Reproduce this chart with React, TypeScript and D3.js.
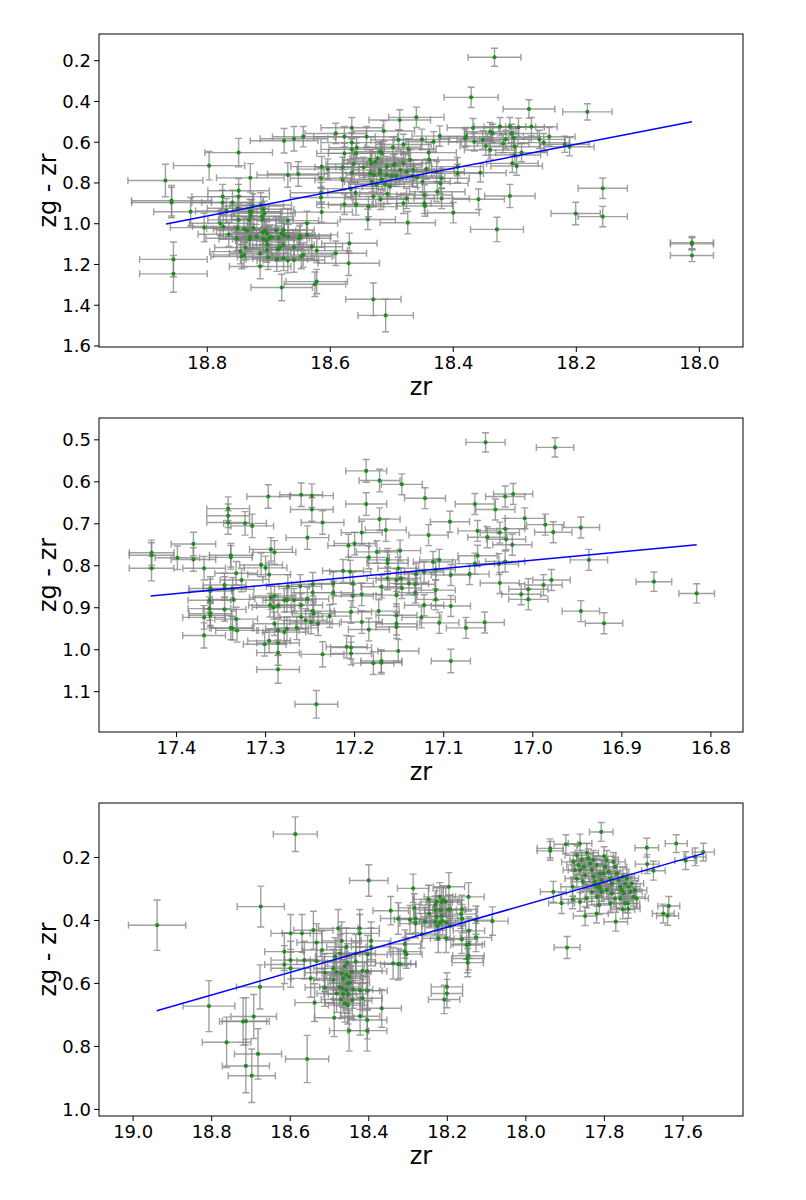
import { useEffect } from 'react';
import * as d3 from 'd3';

type Pt = [number, number, number, number]; // zr, zg - zr, zr error, colour error

// top panel
const p1Points: Pt[] = [
  [18.868, 0.788, 0.061, 0.08], [18.858, 0.887, 0.065, 0.075], [18.858, 0.896, 0.065, 0.075],
  [18.855, 1.175, 0.055, 0.085], [18.855, 1.246, 0.055, 0.09], [18.827, 0.941, 0.06, 0.07],
  [18.805, 1.019, 0.055, 0.07], [18.797, 0.715, 0.058, 0.07], [18.749, 0.651, 0.055, 0.07],
  [18.73, 0.775, 0.055, 0.07], [18.775, 0.867, 0.05, 0.06], [18.775, 0.896, 0.05, 0.06],
  [18.779, 0.998, 0.05, 0.06], [18.774, 1.014, 0.05, 0.06], [18.769, 0.937, 0.05, 0.06],
  [18.759, 0.896, 0.05, 0.06], [18.749, 0.838, 0.05, 0.06], [18.749, 0.867, 0.05, 0.06],
  [18.75, 0.924, 0.05, 0.06], [18.765, 1.052, 0.05, 0.06], [18.752, 1.071, 0.05, 0.06],
  [18.731, 0.941, 0.05, 0.06], [18.728, 0.941, 0.05, 0.06], [18.73, 0.962, 0.05, 0.06],
  [18.732, 0.981, 0.05, 0.06], [18.713, 0.908, 0.05, 0.06], [18.709, 0.929, 0.05, 0.06],
  [18.711, 0.965, 0.05, 0.06], [18.71, 0.978, 0.05, 0.06], [18.74, 1.027, 0.05, 0.06],
  [18.735, 1.034, 0.05, 0.06], [18.725, 1.021, 0.05, 0.06], [18.73, 1.063, 0.05, 0.06],
  [18.731, 1.076, 0.05, 0.06], [18.738, 1.117, 0.05, 0.06], [18.746, 1.137, 0.05, 0.06],
  [18.744, 1.161, 0.05, 0.06], [18.74, 1.153, 0.05, 0.06], [18.714, 1.21, 0.05, 0.06],
  [18.72, 1.063, 0.05, 0.06], [18.71, 1.044, 0.05, 0.06], [18.706, 1.034, 0.05, 0.06],
  [18.703, 1.047, 0.05, 0.06], [18.709, 1.076, 0.05, 0.06], [18.704, 1.083, 0.05, 0.06],
  [18.701, 1.076, 0.05, 0.06], [18.698, 1.067, 0.05, 0.06], [18.695, 1.067, 0.05, 0.06],
  [18.702, 1.104, 0.05, 0.06], [18.703, 1.129, 0.05, 0.06], [18.701, 1.165, 0.05, 0.06],
  [18.714, 1.145, 0.05, 0.06], [18.688, 1.031, 0.05, 0.06], [18.684, 1.071, 0.05, 0.06],
  [18.682, 1.116, 0.05, 0.06], [18.685, 1.125, 0.05, 0.06], [18.679, 1.047, 0.05, 0.06],
  [18.676, 1.031, 0.05, 0.06], [18.675, 1.058, 0.05, 0.06], [18.669, 0.985, 0.05, 0.06],
  [18.668, 1.063, 0.05, 0.06], [18.676, 1.104, 0.05, 0.06], [18.687, 1.174, 0.05, 0.06],
  [18.676, 1.17, 0.05, 0.06], [18.669, 1.181, 0.05, 0.06], [18.659, 1.116, 0.05, 0.06],
  [18.659, 1.178, 0.05, 0.06], [18.649, 1.06, 0.05, 0.06], [18.65, 1.071, 0.05, 0.06],
  [18.647, 1.161, 0.05, 0.06], [18.644, 1.153, 0.05, 0.06], [18.707, 0.949, 0.05, 0.06],
  [18.726, 0.913, 0.05, 0.06], [18.751, 1.022, 0.05, 0.06], [18.749, 0.981, 0.05, 0.06],
  [18.679, 1.313, 0.05, 0.065], [18.625, 1.297, 0.05, 0.06], [18.622, 1.284, 0.05, 0.06],
  [18.622, 1.132, 0.05, 0.06], [18.591, 1.145, 0.05, 0.06], [18.57, 1.194, 0.05, 0.06],
  [18.675, 0.593, 0.055, 0.06], [18.659, 0.583, 0.055, 0.06], [18.669, 0.761, 0.05, 0.06],
  [18.652, 0.756, 0.05, 0.06],
  [18.644, 0.573, 0.05, 0.05], [18.591, 0.557, 0.05, 0.05], [18.577, 0.573, 0.05, 0.05],
  [18.565, 0.529, 0.05, 0.05], [18.565, 0.602, 0.05, 0.05], [18.565, 0.635, 0.05, 0.05],
  [18.541, 0.573, 0.05, 0.05], [18.513, 0.545, 0.05, 0.05], [18.487, 0.491, 0.05, 0.05],
  [18.46, 0.478, 0.045, 0.05], [18.451, 0.586, 0.045, 0.05], [18.432, 0.598, 0.045, 0.05],
  [18.422, 0.57, 0.045, 0.05], [18.489, 0.589, 0.045, 0.05], [18.481, 0.611, 0.045, 0.05],
  [18.473, 0.633, 0.045, 0.05], [18.498, 0.625, 0.045, 0.05], [18.516, 0.655, 0.045, 0.05],
  [18.519, 0.647, 0.045, 0.05], [18.523, 0.679, 0.045, 0.05], [18.535, 0.687, 0.045, 0.05],
  [18.546, 0.723, 0.045, 0.05], [18.557, 0.627, 0.045, 0.05], [18.558, 0.655, 0.045, 0.05],
  [18.562, 0.707, 0.045, 0.05], [18.577, 0.655, 0.045, 0.05], [18.58, 0.723, 0.045, 0.05],
  [18.565, 0.75, 0.045, 0.05], [18.58, 0.786, 0.045, 0.05], [18.567, 0.828, 0.045, 0.05],
  [18.559, 0.848, 0.045, 0.05], [18.577, 0.905, 0.045, 0.05], [18.558, 0.908, 0.045, 0.05],
  [18.538, 0.916, 0.045, 0.05], [18.539, 0.979, 0.045, 0.05], [18.569, 1.096, 0.045, 0.05],
  [18.614, 0.72, 0.05, 0.05], [18.615, 0.777, 0.05, 0.05], [18.615, 0.848, 0.05, 0.05],
  [18.615, 0.871, 0.05, 0.05], [18.614, 0.943, 0.05, 0.05], [18.604, 0.732, 0.05, 0.05],
  [18.638, 0.998, 0.05, 0.06], [18.638, 1.055, 0.05, 0.06], [18.63, 1.113, 0.05, 0.06],
  [18.533, 0.704, 0.045, 0.05], [18.529, 0.761, 0.045, 0.05], [18.519, 0.753, 0.045, 0.05],
  [18.516, 0.782, 0.045, 0.05], [18.508, 0.72, 0.045, 0.05], [18.495, 0.707, 0.045, 0.05],
  [18.486, 0.737, 0.045, 0.05], [18.481, 0.704, 0.045, 0.05], [18.47, 0.687, 0.045, 0.05],
  [18.465, 0.737, 0.045, 0.05], [18.459, 0.773, 0.045, 0.05], [18.45, 0.794, 0.045, 0.05],
  [18.44, 0.651, 0.045, 0.05], [18.439, 0.687, 0.045, 0.05], [18.444, 0.732, 0.045, 0.05],
  [18.427, 0.745, 0.045, 0.05], [18.419, 0.777, 0.045, 0.05], [18.421, 0.802, 0.045, 0.05],
  [18.426, 0.843, 0.045, 0.05], [18.419, 0.876, 0.045, 0.05], [18.447, 0.859, 0.045, 0.05],
  [18.447, 0.9, 0.045, 0.05], [18.446, 0.913, 0.045, 0.05], [18.476, 0.876, 0.045, 0.05],
  [18.481, 0.9, 0.045, 0.05], [18.507, 0.854, 0.045, 0.05], [18.518, 0.88, 0.045, 0.05],
  [18.53, 0.867, 0.045, 0.05], [18.525, 0.807, 0.045, 0.05], [18.511, 0.805, 0.045, 0.05],
  [18.5, 0.766, 0.045, 0.05], [18.493, 0.766, 0.045, 0.05], [18.474, 0.995, 0.045, 0.055],
  [18.535, 0.753, 0.045, 0.05], [18.532, 0.794, 0.045, 0.05], [18.503, 0.818, 0.045, 0.05],
  [18.527, 0.696, 0.045, 0.05], [18.497, 0.712, 0.045, 0.05], [18.476, 0.745, 0.045, 0.05],
  [18.467, 0.766, 0.045, 0.05], [18.508, 0.761, 0.045, 0.05], [18.519, 0.737, 0.045, 0.05],
  [18.4, 0.946, 0.042, 0.05], [18.393, 0.72, 0.042, 0.045], [18.393, 0.753, 0.042, 0.045],
  [18.356, 0.75, 0.042, 0.045], [18.359, 0.88, 0.042, 0.05], [18.329, 1.028, 0.043, 0.06],
  [18.308, 0.864, 0.041, 0.057], [18.304, 0.704, 0.042, 0.045], [18.297, 0.717, 0.042, 0.045],
  [18.3, 0.663, 0.042, 0.045], [18.289, 0.651, 0.042, 0.045], [18.3, 0.622, 0.042, 0.045],
  [18.379, 0.573, 0.042, 0.045], [18.366, 0.598, 0.042, 0.045], [18.352, 0.589, 0.042, 0.045],
  [18.347, 0.619, 0.042, 0.045], [18.34, 0.638, 0.042, 0.045], [18.34, 0.548, 0.042, 0.045],
  [18.336, 0.557, 0.042, 0.045], [18.324, 0.524, 0.042, 0.045], [18.319, 0.606, 0.042, 0.045],
  [18.315, 0.586, 0.042, 0.045], [18.308, 0.524, 0.042, 0.045], [18.305, 0.557, 0.042, 0.045],
  [18.294, 0.527, 0.042, 0.045], [18.273, 0.524, 0.042, 0.045], [18.26, 0.586, 0.042, 0.045],
  [18.253, 0.602, 0.042, 0.045], [18.244, 0.573, 0.042, 0.045], [18.368, 0.529, 0.042, 0.045],
  [18.381, 0.581, 0.042, 0.045], [18.302, 0.578, 0.042, 0.045], [18.371, 0.38, 0.044, 0.05],
  [18.277, 0.437, 0.042, 0.045], [18.333, 0.183, 0.043, 0.044], [18.182, 0.451, 0.04, 0.04],
  [18.157, 0.826, 0.04, 0.05], [18.201, 0.95, 0.04, 0.055], [18.157, 0.965, 0.04, 0.05],
  [18.211, 0.622, 0.04, 0.045], [18.219, 0.61, 0.04, 0.04], [18.012, 1.093, 0.035, 0.03],
  [18.012, 1.099, 0.035, 0.03], [18.012, 1.156, 0.035, 0.03], [18.53, 1.371, 0.045, 0.08],
  [18.51, 1.45, 0.045, 0.08],
];

// middle panel
const p2Points: Pt[] = [
  [17.428, 0.769, 0.025, 0.03], [17.428, 0.775, 0.025, 0.03], [17.428, 0.806, 0.025, 0.03],
  [17.399, 0.781, 0.025, 0.028], [17.381, 0.748, 0.025, 0.028], [17.381, 0.785, 0.025, 0.028],
  [17.369, 0.806, 0.024, 0.028], [17.369, 0.923, 0.024, 0.028], [17.369, 0.966, 0.024, 0.03],
  [17.362, 0.854, 0.024, 0.028], [17.362, 0.86, 0.024, 0.028], [17.363, 0.882, 0.024, 0.028],
  [17.363, 0.902, 0.024, 0.028], [17.362, 0.914, 0.024, 0.028], [17.362, 0.918, 0.024, 0.028],
  [17.346, 0.904, 0.024, 0.028], [17.346, 0.846, 0.024, 0.028], [17.346, 0.854, 0.024, 0.028],
  [17.342, 0.664, 0.024, 0.028], [17.342, 0.681, 0.024, 0.028], [17.342, 0.697, 0.024, 0.028],
  [17.339, 0.775, 0.024, 0.028], [17.339, 0.78, 0.024, 0.028], [17.337, 0.856, 0.024, 0.028],
  [17.336, 0.88, 0.024, 0.028], [17.339, 0.948, 0.024, 0.028], [17.337, 0.949, 0.024, 0.028],
  [17.332, 0.954, 0.024, 0.028], [17.333, 0.927, 0.024, 0.028], [17.333, 0.818, 0.024, 0.028],
  [17.327, 0.834, 0.024, 0.028], [17.323, 0.699, 0.024, 0.028], [17.315, 0.705, 0.024, 0.028],
  [17.305, 0.798, 0.024, 0.028], [17.3, 0.805, 0.024, 0.028], [17.297, 0.635, 0.024, 0.028],
  [17.294, 0.761, 0.024, 0.028], [17.29, 0.768, 0.024, 0.028], [17.296, 0.821, 0.024, 0.028],
  [17.294, 0.876, 0.024, 0.028], [17.29, 0.872, 0.024, 0.028], [17.291, 0.899, 0.024, 0.028],
  [17.295, 0.894, 0.024, 0.028], [17.286, 0.895, 0.024, 0.028], [17.279, 0.882, 0.024, 0.028],
  [17.276, 0.882, 0.024, 0.028], [17.29, 0.938, 0.024, 0.028], [17.286, 0.954, 0.024, 0.028],
  [17.276, 0.95, 0.024, 0.028], [17.279, 0.958, 0.024, 0.028], [17.296, 0.979, 0.024, 0.028],
  [17.301, 0.987, 0.024, 0.028], [17.286, 0.984, 0.024, 0.028], [17.286, 1.007, 0.024, 0.03],
  [17.286, 1.047, 0.024, 0.033], [17.275, 0.849, 0.024, 0.028], [17.265, 0.948, 0.024, 0.028],
  [17.268, 0.882, 0.024, 0.028], [17.26, 0.631, 0.024, 0.028], [17.248, 0.633, 0.024, 0.028],
  [17.248, 0.666, 0.024, 0.028], [17.236, 0.697, 0.024, 0.028], [17.253, 0.733, 0.024, 0.028],
  [17.261, 0.849, 0.024, 0.028], [17.26, 0.894, 0.024, 0.028], [17.26, 0.922, 0.024, 0.028],
  [17.255, 0.93, 0.024, 0.028], [17.249, 0.934, 0.024, 0.028], [17.247, 0.908, 0.024, 0.028],
  [17.246, 0.914, 0.024, 0.028], [17.247, 0.864, 0.024, 0.028], [17.247, 0.844, 0.024, 0.028],
  [17.253, 0.879, 0.024, 0.028], [17.241, 0.938, 0.024, 0.028], [17.236, 1.011, 0.024, 0.03],
  [17.243, 1.13, 0.024, 0.033], [17.228, 0.92, 0.023, 0.027], [17.224, 0.842, 0.023, 0.027],
  [17.224, 0.864, 0.023, 0.027], [17.213, 0.812, 0.023, 0.027], [17.207, 0.752, 0.023, 0.027],
  [17.205, 0.814, 0.023, 0.027], [17.2, 0.747, 0.023, 0.027], [17.202, 0.842, 0.023, 0.027],
  [17.202, 0.872, 0.023, 0.027], [17.204, 0.91, 0.023, 0.027], [17.209, 0.993, 0.023, 0.027],
  [17.204, 0.995, 0.023, 0.027], [17.204, 1.009, 0.023, 0.027], [17.187, 0.574, 0.023, 0.027],
  [17.187, 0.653, 0.023, 0.027], [17.192, 0.721, 0.023, 0.027], [17.184, 0.78, 0.023, 0.027],
  [17.192, 0.868, 0.023, 0.027], [17.192, 0.934, 0.023, 0.027], [17.184, 0.952, 0.023, 0.027],
  [17.179, 1.032, 0.023, 0.027], [17.172, 0.597, 0.023, 0.027], [17.172, 0.689, 0.023, 0.027],
  [17.165, 0.715, 0.023, 0.027], [17.175, 0.767, 0.023, 0.027], [17.17, 0.85, 0.023, 0.027],
  [17.173, 0.908, 0.023, 0.027], [17.17, 1.027, 0.023, 0.027], [17.17, 1.031, 0.023, 0.027],
  [17.163, 0.786, 0.023, 0.027], [17.163, 0.794, 0.023, 0.027], [17.163, 0.83, 0.023, 0.027],
  [17.153, 0.834, 0.023, 0.027], [17.153, 0.87, 0.023, 0.027], [17.153, 0.918, 0.023, 0.027],
  [17.153, 0.938, 0.023, 0.027], [17.153, 0.946, 0.023, 0.027], [17.151, 1.003, 0.023, 0.027],
  [17.151, 0.806, 0.023, 0.027], [17.053, 0.506, 0.022, 0.023], [16.975, 0.518, 0.021, 0.023],
  [17.147, 0.606, 0.023, 0.025], [17.121, 0.639, 0.023, 0.025], [17.065, 0.653, 0.022, 0.025],
  [17.031, 0.635, 0.022, 0.025], [17.022, 0.629, 0.022, 0.025], [17.042, 0.666, 0.022, 0.025],
  [17.009, 0.687, 0.022, 0.025], [17.093, 0.695, 0.022, 0.025], [16.986, 0.702, 0.021, 0.025],
  [16.977, 0.72, 0.021, 0.025], [16.946, 0.709, 0.021, 0.025], [17.117, 0.727, 0.022, 0.025],
  [17.062, 0.717, 0.022, 0.025], [17.051, 0.732, 0.022, 0.025], [17.037, 0.721, 0.022, 0.025],
  [17.031, 0.712, 0.022, 0.025], [17.03, 0.737, 0.022, 0.025], [17.023, 0.75, 0.022, 0.025],
  [17.149, 0.764, 0.023, 0.025], [17.062, 0.776, 0.022, 0.025], [17.112, 0.791, 0.022, 0.025],
  [17.105, 0.786, 0.022, 0.025], [17.109, 0.809, 0.022, 0.025], [17.065, 0.795, 0.022, 0.025],
  [17.038, 0.796, 0.022, 0.025], [17.031, 0.79, 0.022, 0.025], [16.937, 0.786, 0.021, 0.025],
  [17.122, 0.815, 0.022, 0.025], [17.131, 0.82, 0.022, 0.025], [17.092, 0.822, 0.022, 0.025],
  [17.071, 0.82, 0.022, 0.025], [17.148, 0.83, 0.022, 0.025], [17.139, 0.842, 0.022, 0.025],
  [17.132, 0.844, 0.022, 0.025], [17.147, 0.853, 0.022, 0.025], [17.132, 0.864, 0.022, 0.025],
  [17.109, 0.858, 0.022, 0.025], [17.109, 0.88, 0.022, 0.025], [17.122, 0.894, 0.022, 0.025],
  [17.092, 0.896, 0.022, 0.025], [17.125, 0.923, 0.022, 0.025], [17.105, 0.936, 0.022, 0.025],
  [17.075, 0.948, 0.022, 0.025], [17.054, 0.935, 0.022, 0.025], [17.092, 1.027, 0.022, 0.028],
  [17.037, 0.841, 0.022, 0.025], [17.013, 0.868, 0.022, 0.025], [17.005, 0.856, 0.022, 0.025],
  [17.005, 0.88, 0.022, 0.025], [16.988, 0.846, 0.021, 0.025], [16.979, 0.834, 0.021, 0.025],
  [16.946, 0.908, 0.021, 0.025], [16.92, 0.937, 0.021, 0.025], [16.864, 0.838, 0.02, 0.023],
  [16.816, 0.866, 0.02, 0.023],
];

// bottom panel
const p3Points: Pt[] = [
  [18.939, 0.415, 0.073, 0.08], [18.587, 0.126, 0.056, 0.055], [18.675, 0.356, 0.06, 0.065],
  [18.4, 0.273, 0.049, 0.05], [18.344, 0.369, 0.045, 0.045], [18.807, 0.672, 0.066, 0.081],
  [18.677, 0.611, 0.06, 0.07], [18.762, 0.787, 0.062, 0.08], [18.72, 0.721, 0.06, 0.075],
  [18.713, 0.72, 0.06, 0.075], [18.693, 0.705, 0.058, 0.07], [18.682, 0.824, 0.06, 0.08],
  [18.713, 0.862, 0.06, 0.085], [18.698, 0.893, 0.06, 0.085], [18.557, 0.84, 0.055, 0.075],
  [18.615, 0.499, 0.05, 0.06], [18.615, 0.54, 0.05, 0.06], [18.599, 0.441, 0.05, 0.06],
  [18.599, 0.526, 0.05, 0.06], [18.599, 0.552, 0.05, 0.06], [18.57, 0.441, 0.05, 0.06],
  [18.564, 0.526, 0.05, 0.06], [18.541, 0.431, 0.05, 0.06], [18.533, 0.47, 0.05, 0.06],
  [18.533, 0.529, 0.05, 0.06], [18.548, 0.584, 0.05, 0.06], [18.538, 0.661, 0.05, 0.06],
  [18.519, 0.494, 0.05, 0.06], [18.512, 0.566, 0.05, 0.06], [18.512, 0.613, 0.05, 0.06],
  [18.49, 0.552, 0.05, 0.06], [18.49, 0.589, 0.05, 0.06], [18.488, 0.709, 0.05, 0.06],
  [18.486, 0.515, 0.05, 0.06], [18.478, 0.425, 0.05, 0.06], [18.469, 0.465, 0.05, 0.06],
  [18.473, 0.505, 0.05, 0.06], [18.469, 0.568, 0.05, 0.06], [18.465, 0.584, 0.05, 0.06],
  [18.475, 0.611, 0.05, 0.06], [18.465, 0.634, 0.05, 0.06], [18.471, 0.651, 0.05, 0.06],
  [18.457, 0.573, 0.05, 0.06], [18.454, 0.6, 0.05, 0.06], [18.457, 0.621, 0.05, 0.06],
  [18.453, 0.634, 0.05, 0.06], [18.461, 0.663, 0.05, 0.06], [18.453, 0.669, 0.05, 0.06],
  [18.457, 0.484, 0.05, 0.06], [18.455, 0.534, 0.05, 0.06], [18.444, 0.563, 0.05, 0.06],
  [18.448, 0.598, 0.05, 0.06], [18.44, 0.619, 0.05, 0.06], [18.45, 0.75, 0.05, 0.065],
  [18.433, 0.505, 0.05, 0.06], [18.433, 0.531, 0.05, 0.06], [18.423, 0.425, 0.05, 0.06],
  [18.423, 0.441, 0.05, 0.06], [18.416, 0.56, 0.05, 0.06], [18.422, 0.623, 0.05, 0.06],
  [18.416, 0.647, 0.05, 0.06], [18.422, 0.704, 0.05, 0.06], [18.404, 0.561, 0.05, 0.06],
  [18.403, 0.508, 0.05, 0.06], [18.394, 0.465, 0.05, 0.06], [18.394, 0.484, 0.05, 0.06],
  [18.403, 0.623, 0.05, 0.06], [18.404, 0.716, 0.05, 0.06], [18.404, 0.75, 0.05, 0.065],
  [18.367, 0.679, 0.05, 0.06], [18.338, 0.536, 0.045, 0.05], [18.325, 0.539, 0.045, 0.05],
  [18.325, 0.394, 0.045, 0.05], [18.482, 0.563, 0.05, 0.06], [18.461, 0.545, 0.05, 0.06],
  [18.449, 0.579, 0.05, 0.06], [18.467, 0.616, 0.05, 0.06], [18.442, 0.653, 0.05, 0.06],
  [18.482, 0.632, 0.05, 0.06],
  [18.287, 0.298, 0.04, 0.045], [18.284, 0.36, 0.04, 0.045], [18.295, 0.397, 0.04, 0.045],
  [18.281, 0.394, 0.04, 0.045], [18.281, 0.41, 0.04, 0.045], [18.265, 0.443, 0.04, 0.045],
  [18.308, 0.475, 0.04, 0.045], [18.308, 0.499, 0.04, 0.045], [18.304, 0.507, 0.04, 0.045],
  [18.32, 0.539, 0.04, 0.045], [18.248, 0.333, 0.04, 0.045], [18.246, 0.378, 0.04, 0.045],
  [18.231, 0.351, 0.04, 0.045], [18.23, 0.367, 0.04, 0.045], [18.227, 0.341, 0.04, 0.045],
  [18.219, 0.325, 0.04, 0.045], [18.214, 0.341, 0.04, 0.045], [18.21, 0.335, 0.04, 0.045],
  [18.204, 0.341, 0.04, 0.045], [18.196, 0.293, 0.04, 0.045], [18.197, 0.365, 0.04, 0.045],
  [18.193, 0.365, 0.04, 0.045], [18.217, 0.367, 0.04, 0.045], [18.214, 0.386, 0.04, 0.045],
  [18.219, 0.407, 0.04, 0.045], [18.225, 0.418, 0.04, 0.045], [18.212, 0.401, 0.04, 0.045],
  [18.202, 0.407, 0.04, 0.045], [18.193, 0.418, 0.04, 0.045], [18.231, 0.404, 0.04, 0.045],
  [18.257, 0.404, 0.04, 0.045], [18.227, 0.388, 0.04, 0.045], [18.163, 0.365, 0.04, 0.045],
  [18.165, 0.38, 0.04, 0.045], [18.162, 0.394, 0.04, 0.045], [18.146, 0.325, 0.04, 0.045],
  [18.127, 0.399, 0.04, 0.045], [18.145, 0.433, 0.04, 0.045], [18.127, 0.454, 0.04, 0.045],
  [18.145, 0.475, 0.04, 0.045], [18.151, 0.478, 0.04, 0.045], [18.163, 0.46, 0.04, 0.045],
  [18.146, 0.512, 0.04, 0.045], [18.149, 0.521, 0.04, 0.045], [18.148, 0.534, 0.04, 0.045],
  [18.085, 0.402, 0.04, 0.045], [18.203, 0.457, 0.04, 0.045], [18.223, 0.457, 0.04, 0.045],
  [18.201, 0.611, 0.04, 0.045], [18.201, 0.632, 0.04, 0.045], [18.208, 0.651, 0.04, 0.045],
  [17.93, 0.309, 0.033, 0.033], [17.909, 0.345, 0.033, 0.033], [17.895, 0.486, 0.033, 0.035],
  [17.938, 0.171, 0.033, 0.03], [17.938, 0.179, 0.033, 0.03], [17.898, 0.158, 0.03, 0.03],
  [17.862, 0.156, 0.03, 0.03], [17.808, 0.119, 0.03, 0.03], [17.87, 0.193, 0.03, 0.03],
  [17.879, 0.214, 0.03, 0.03], [17.875, 0.24, 0.03, 0.03], [17.87, 0.267, 0.03, 0.03],
  [17.881, 0.293, 0.03, 0.03], [17.866, 0.224, 0.03, 0.03], [17.862, 0.24, 0.03, 0.03],
  [17.858, 0.208, 0.03, 0.03], [17.853, 0.23, 0.03, 0.03], [17.849, 0.256, 0.03, 0.03],
  [17.855, 0.277, 0.03, 0.03], [17.845, 0.185, 0.03, 0.03], [17.841, 0.203, 0.03, 0.03],
  [17.836, 0.219, 0.03, 0.03], [17.832, 0.24, 0.03, 0.03], [17.828, 0.261, 0.03, 0.03],
  [17.824, 0.277, 0.03, 0.03], [17.819, 0.293, 0.03, 0.03], [17.815, 0.288, 0.03, 0.03],
  [17.811, 0.298, 0.03, 0.03], [17.807, 0.272, 0.03, 0.03], [17.802, 0.251, 0.03, 0.03],
  [17.798, 0.23, 0.03, 0.03], [17.794, 0.208, 0.03, 0.03], [17.79, 0.246, 0.03, 0.03],
  [17.785, 0.267, 0.03, 0.03], [17.781, 0.283, 0.03, 0.03], [17.777, 0.214, 0.03, 0.03],
  [17.773, 0.23, 0.03, 0.03], [17.768, 0.251, 0.03, 0.03], [17.764, 0.272, 0.03, 0.03],
  [17.76, 0.293, 0.03, 0.03], [17.756, 0.304, 0.03, 0.03], [17.751, 0.314, 0.03, 0.03],
  [17.747, 0.283, 0.03, 0.03], [17.743, 0.267, 0.03, 0.03], [17.739, 0.293, 0.03, 0.03],
  [17.734, 0.309, 0.03, 0.03], [17.726, 0.325, 0.03, 0.03], [17.718, 0.33, 0.03, 0.03],
  [17.722, 0.304, 0.03, 0.03], [17.73, 0.283, 0.03, 0.03], [17.845, 0.33, 0.03, 0.03],
  [17.832, 0.309, 0.03, 0.03], [17.819, 0.325, 0.03, 0.03], [17.807, 0.309, 0.03, 0.03],
  [17.794, 0.304, 0.03, 0.03], [17.781, 0.314, 0.03, 0.03], [17.773, 0.33, 0.03, 0.03],
  [17.76, 0.33, 0.03, 0.03], [17.747, 0.346, 0.03, 0.03], [17.739, 0.363, 0.03, 0.03],
  [17.785, 0.346, 0.03, 0.03], [17.813, 0.351, 0.03, 0.03], [17.862, 0.341, 0.03, 0.03],
  [17.881, 0.333, 0.03, 0.03], [17.811, 0.251, 0.03, 0.03], [17.819, 0.224, 0.03, 0.03],
  [17.828, 0.208, 0.03, 0.03], [17.801, 0.196, 0.03, 0.03], [17.753, 0.261, 0.03, 0.03],
  [17.826, 0.286, 0.03, 0.03], [17.814, 0.293, 0.03, 0.03], [17.849, 0.386, 0.03, 0.03],
  [17.82, 0.378, 0.03, 0.03], [17.771, 0.404, 0.03, 0.03], [17.74, 0.346, 0.03, 0.03],
  [17.753, 0.365, 0.03, 0.03], [17.692, 0.169, 0.03, 0.03], [17.691, 0.221, 0.03, 0.03],
  [17.675, 0.242, 0.03, 0.03], [17.617, 0.156, 0.028, 0.028], [17.593, 0.21, 0.028, 0.028],
  [17.569, 0.198, 0.028, 0.028], [17.548, 0.183, 0.028, 0.028], [17.636, 0.354, 0.028, 0.03],
  [17.65, 0.378, 0.028, 0.03], [17.639, 0.385, 0.028, 0.03],
];

// straight-line fits, end points
const p1Fit: [number, number][] = [[18.867, 1.001], [18.012, 0.5]];
const p2Fit: [number, number][] = [[17.429, 0.872], [16.816, 0.75]];
const p3Fit: [number, number][] = [[18.94, 0.687], [17.547, 0.187]];

// axis ranges (both axes inverted) and ticks
const p1XDomain = [18.976, 17.929];
const p1YDomain = [0.069, 1.605];
const p1XTicks = [18.8, 18.6, 18.4, 18.2, 18.0];
const p1YTicks = [0.2, 0.4, 0.6, 0.8, 1.0, 1.2, 1.4, 1.6];

const p2XDomain = [17.487, 16.764];
const p2YDomain = [0.448, 1.196];
const p2XTicks = [17.4, 17.3, 17.2, 17.1, 17.0, 16.9, 16.8];
const p2YTicks = [0.5, 0.6, 0.7, 0.8, 0.9, 1.0, 1.1];

const p3XDomain = [19.087, 17.447];
const p3YDomain = [0.027, 1.021];
const p3XTicks = [19.0, 18.8, 18.6, 18.4, 18.2, 18.0, 17.8, 17.6];
const p3YTicks = [0.2, 0.4, 0.6, 0.8, 1.0];

const W = 806;
const H = 1200;
const left = 99;
const right = 743;
const font = 'DejaVu Sans, sans-serif';

interface PanelProps {
  top: number;
  bottom: number;
  points: Pt[];
  fit: [number, number][];
  xDomain: number[];
  yDomain: number[];
  xTicks: number[];
  yTicks: number[];
}

const Panel = ({ top, bottom, points, fit, xDomain, yDomain, xTicks, yTicks }: PanelProps) => {
  const x = d3.scaleLinear().domain(xDomain).range([left, right]);
  const y = d3.scaleLinear().domain(yDomain).range([top, bottom]);
  const line = d3
    .line<[number, number]>()
    .x((d) => x(d[0]))
    .y((d) => y(d[1]));
  const cap = 3.5;

  return (
    <g>
      <defs>
        <clipPath id={`clip-${top}`}>
          <rect x={left} y={top} width={right - left} height={bottom - top} />
        </clipPath>
      </defs>

      <g clipPath={`url(#clip-${top})`}>
        {/* error bars */}
        <g stroke="#808080" strokeWidth={1.4} strokeOpacity={0.75} fill="none">
          {points.map((d, i) => {
            const cx = x(d[0]);
            const cy = y(d[1]);
            const x0 = x(d[0] + d[2]);
            const x1 = x(d[0] - d[2]);
            const y0 = y(d[1] - d[3]);
            const y1 = y(d[1] + d[3]);
            return (
              <path
                key={i}
                d={
                  `M${x0},${cy}H${x1}` +
                  `M${x0},${cy - cap}V${cy + cap}M${x1},${cy - cap}V${cy + cap}` +
                  `M${cx},${y0}V${y1}` +
                  `M${cx - cap},${y0}H${cx + cap}M${cx - cap},${y1}H${cx + cap}`
                }
              />
            );
          })}
        </g>
        <g fill="#228B22">
          {points.map((d, i) => (
            <circle key={i} cx={x(d[0])} cy={y(d[1])} r={2.1} />
          ))}
        </g>
        <path d={line(fit) ?? ''} stroke="#0000ff" strokeWidth={1.5} fill="none" />
      </g>

      {/* frame */}
      <rect
        x={left}
        y={top}
        width={right - left}
        height={bottom - top}
        fill="none"
        stroke="#000"
        strokeWidth={1}
      />

      {/* x ticks */}
      {xTicks.map((t) => (
        <g key={`x${t}`} transform={`translate(${x(t)},${bottom})`}>
          <line y2={5} stroke="#000" />
          <text y={22} textAnchor="middle" fontSize={18} fontFamily={font} fill="#000">
            {d3.format('.1f')(t)}
          </text>
        </g>
      ))}
      {/* y ticks */}
      {yTicks.map((t) => (
        <g key={`y${t}`} transform={`translate(${left},${y(t)})`}>
          <line x2={-5} stroke="#000" />
          <text x={-8} dy="0.35em" textAnchor="end" fontSize={18} fontFamily={font} fill="#000">
            {d3.format('.1f')(t)}
          </text>
        </g>
      ))}

      <text
        x={(left + right) / 2}
        y={bottom + 48}
        textAnchor="middle"
        fontSize={24}
        fontFamily={font}
        fill="#000"
      >
        zr
      </text>
      <text
        transform={`translate(56,${(top + bottom) / 2}) rotate(-90)`}
        textAnchor="middle"
        fontSize={24}
        fontFamily={font}
        fill="#000"
      >
        zg - zr
      </text>
    </g>
  );
};

const App = () => {
  useEffect(() => {
    document.body.style.margin = '0';
  }, []);

  return (
    <svg width={W} height={H} style={{ display: 'block', background: '#fff' }}>
      <Panel
        top={34}
        bottom={347}
        points={p1Points}
        fit={p1Fit}
        xDomain={p1XDomain}
        yDomain={p1YDomain}
        xTicks={p1XTicks}
        yTicks={p1YTicks}
      />
      <Panel
        top={418}
        bottom={732}
        points={p2Points}
        fit={p2Fit}
        xDomain={p2XDomain}
        yDomain={p2YDomain}
        xTicks={p2XTicks}
        yTicks={p2YTicks}
      />
      <Panel
        top={803}
        bottom={1116}
        points={p3Points}
        fit={p3Fit}
        xDomain={p3XDomain}
        yDomain={p3YDomain}
        xTicks={p3XTicks}
        yTicks={p3YTicks}
      />
    </svg>
  );
};

export default App;
